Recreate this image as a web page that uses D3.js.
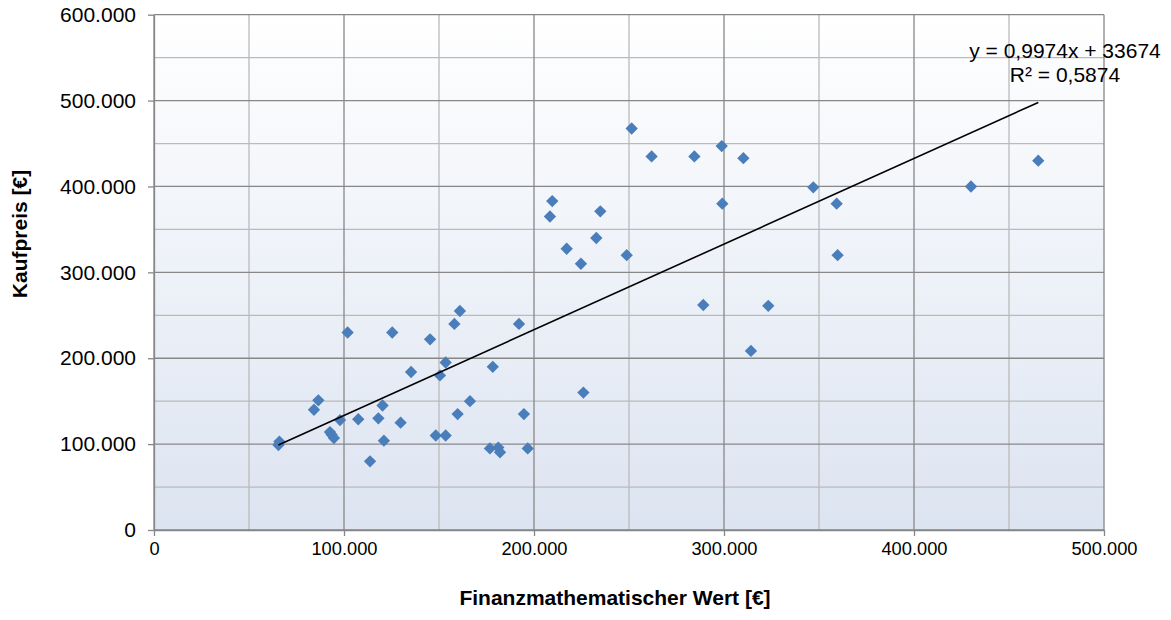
<!DOCTYPE html>
<html>
<head>
<meta charset="utf-8">
<script src="https://cdn.jsdelivr.net/npm/d3@7"></script>
<style>
  html, body { margin: 0; padding: 0; background: #ffffff; }
  svg { display: block; font-family: "Liberation Sans", Arial, sans-serif; }
</style>
</head>
<body>
<svg id="chart" width="1171" height="620"></svg>
<script>
// ---- data ----
const finanzWert = [65500, 66000, 86500, 84200, 97900, 92600, 93500, 94700, 107500, 118100,
  120300, 121000, 129800, 113700, 101900, 125400, 145300, 135300, 150500, 153500,
  148300, 153500, 159800, 166300, 158100, 161000, 192100, 178300, 194700, 226000,
  176800, 181200, 182100, 196700, 251400, 261900, 284400, 298800, 310200, 209600,
  208400, 234900, 299100, 217200, 232800, 224700, 248800, 289100, 323300, 359300,
  347000, 359800, 314200, 430000, 465400];
const kaufpreis = [99000, 103000, 151000, 140000, 128000, 114000, 111000, 107000, 129000, 130000,
  145000, 104000, 125000, 80000, 230000, 230000, 222000, 184000, 180000, 195000,
  110000, 110000, 135000, 150000, 240000, 255000, 240000, 190000, 135000, 160000,
  95000, 96000, 90500, 95000, 467500, 435000, 435000, 447000, 433000, 383000,
  365000, 371000, 380000, 327500, 340000, 310000, 320000, 262000, 261000, 380000,
  399000, 320000, 208500, 400000, 430000];
const xTicks = [0, 100000, 200000, 300000, 400000, 500000];
const yTicks = [0, 100000, 200000, 300000, 400000, 500000, 600000];
const xMinorGrid = [50000, 150000, 250000, 350000, 450000];
const yMinorGrid = [50000, 150000, 250000, 350000, 450000, 550000];
const trendSlope = 0.9974;
const trendIntercept = 33674;
const trendR2 = 0.5874;
const xTitle = "Finanzmathematischer Wert [€]";
const yTitle = "Kaufpreis [€]";

// ---- layout ----
const svg = d3.select("#chart");
const L = 154, R = 1104, T = 14.7, B = 530;
const x = d3.scaleLinear().domain([0, 500000]).range([L, R]);
const y = d3.scaleLinear().domain([0, 600000]).range([B, T]);

const de = d3.formatLocale({decimal: ",", thousands: ".", grouping: [3], currency: ["", "€"]});
const fmt = de.format(",");

// gradient background
const defs = svg.append("defs");
const grad = defs.append("linearGradient").attr("id", "bg").attr("x1", 0).attr("y1", 0).attr("x2", 0).attr("y2", 1);
grad.append("stop").attr("offset", "0%").attr("stop-color", "#ffffff");
grad.append("stop").attr("offset", "100%").attr("stop-color", "#dce4f1");
svg.append("rect").attr("x", L).attr("y", T).attr("width", R - L).attr("height", B - T).attr("fill", "url(#bg)");

// minor grid
const g = svg.append("g");
g.selectAll("line.vmin").data(xMinorGrid).join("line")
  .attr("x1", d => x(d)).attr("x2", d => x(d)).attr("y1", T).attr("y2", B)
  .attr("stroke", "#bababa").attr("stroke-width", 1.3);
g.selectAll("line.hmin").data(yMinorGrid).join("line")
  .attr("y1", d => y(d)).attr("y2", d => y(d)).attr("x1", L).attr("x2", R)
  .attr("stroke", "#bababa").attr("stroke-width", 1.3);
// major grid
g.selectAll("line.vmaj").data(xTicks).join("line")
  .attr("x1", d => x(d)).attr("x2", d => x(d)).attr("y1", T).attr("y2", B)
  .attr("stroke", "#878787").attr("stroke-width", 1.3);
g.selectAll("line.hmaj").data(yTicks).join("line")
  .attr("y1", d => y(d)).attr("y2", d => y(d)).attr("x1", L).attr("x2", R)
  .attr("stroke", "#878787").attr("stroke-width", 1.3);

// axes
const xAxis = d3.axisBottom(x).tickValues(xTicks).tickFormat(fmt).tickSizeInner(6).tickSizeOuter(0).tickPadding(6);
const yAxis = d3.axisLeft(y).tickValues(yTicks).tickFormat(fmt).tickSizeInner(6).tickSizeOuter(0).tickPadding(12);
const gx = svg.append("g").attr("transform", `translate(0,${B})`).call(xAxis);
const gy = svg.append("g").attr("transform", `translate(${L},0)`).call(yAxis);
[gx, gy].forEach(a => {
  a.select(".domain").attr("stroke", "#878787").attr("stroke-width", 1.3);
  a.selectAll(".tick line").attr("stroke", "#878787").attr("stroke-width", 1.3);
  a.selectAll(".tick text").attr("fill", "#000").attr("font-family", "Liberation Sans, Arial, sans-serif");
});
gx.selectAll(".tick text").attr("font-size", 18.3);
gy.selectAll(".tick text").attr("font-size", 21);

// points
const sym = d3.symbol(d3.symbolSquare, 76);
svg.append("g").selectAll("path").data(finanzWert.map((v, i) => [v, kaufpreis[i]])).join("path")
  .attr("d", sym)
  .attr("transform", d => `translate(${x(d[0])},${y(d[1])}) rotate(45)`)
  .attr("fill", "#4a7ebb");

// trend line
const xr = d3.extent(finanzWert);
svg.append("line")
  .attr("x1", x(xr[0])).attr("y1", y(trendSlope * xr[0] + trendIntercept))
  .attr("x2", x(xr[1])).attr("y2", y(trendSlope * xr[1] + trendIntercept))
  .attr("stroke", "#000").attr("stroke-width", 1.6);

// trend label
const lab = svg.append("text").attr("text-anchor", "middle").attr("font-size", 21).attr("fill", "#000");
lab.append("tspan").attr("x", 1065).attr("y", 58)
  .text(`y = ${String(trendSlope).replace(".", ",")}x + ${trendIntercept}`);
lab.append("tspan").attr("x", 1065).attr("y", 82)
  .text(`R² = ${String(trendR2).replace(".", ",")}`);

// axis titles
svg.append("text").attr("x", 615).attr("y", 605).attr("text-anchor", "middle")
  .attr("font-size", 21).attr("font-weight", "bold").text(xTitle);
svg.append("text").attr("transform", "translate(27,234) rotate(-90)").attr("text-anchor", "middle")
  .attr("font-size", 21).attr("font-weight", "bold").text(yTitle);
</script>
</body>
</html>
